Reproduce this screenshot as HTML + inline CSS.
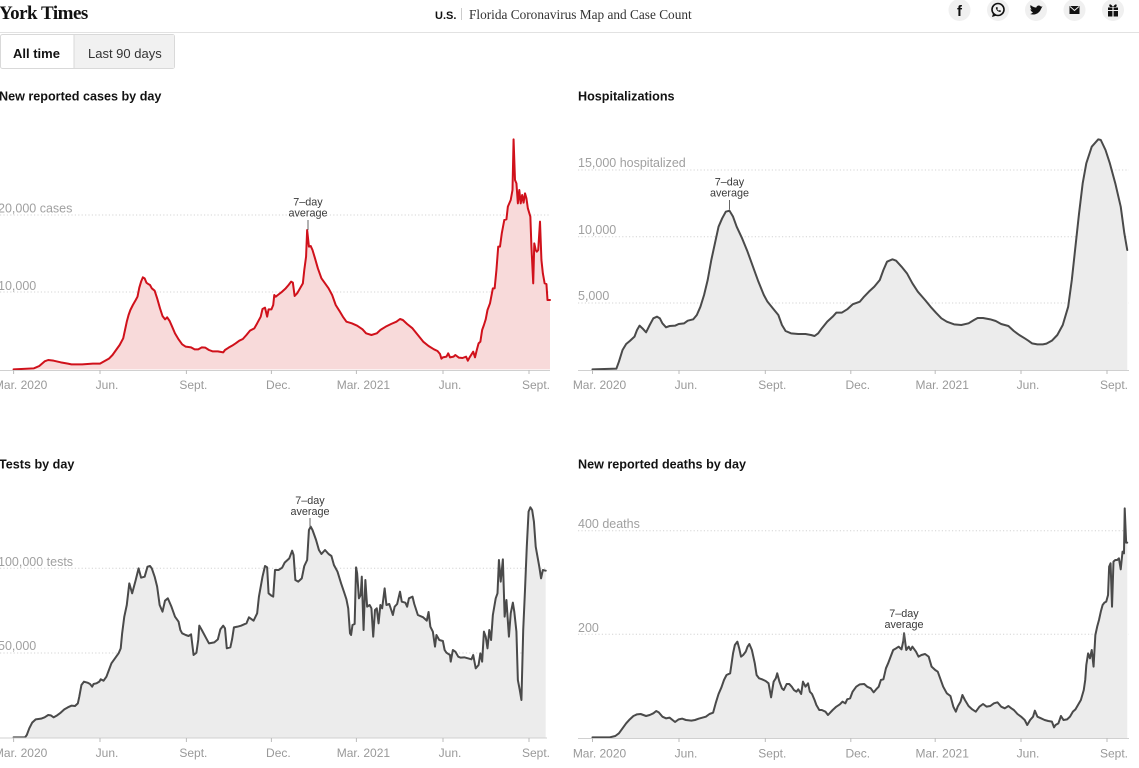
<!DOCTYPE html>
<html>
<head>
<meta charset="utf-8">
<style>
  html,body{margin:0;padding:0;background:#fff;}
  body{width:1139px;height:768px;overflow:hidden;position:relative;}
  svg{position:absolute;left:0;top:0;}
  text{font-family:"Liberation Sans",Arial,sans-serif;}
  .ax{font-size:12px;fill:#999;text-anchor:middle;}
  .gl{font-size:12.5px;fill:#a0a0a0;}
  .ti{font-size:12.6px;font-weight:bold;fill:#121212;}
  .an{font-size:10.8px;fill:#3a3a3a;text-anchor:middle;}
  .grid{stroke:#d4d4d4;stroke-width:1;stroke-dasharray:1.2 2.2;fill:none;}
  .base{stroke:#d0d0d0;stroke-width:1;}
  .tick{stroke:#bbb;stroke-width:1;}
  .gline{fill:none;stroke:#4a4a4a;stroke-width:2;stroke-linejoin:round;stroke-linecap:round;}
  .gfill{fill:#ececec;stroke:none;}
  .rline{fill:none;stroke:#d0111b;stroke-width:2;stroke-linejoin:round;stroke-linecap:round;}
  .rfill{fill:#f8dada;stroke:none;}
</style>
</head>
<body>
<svg width="1139" height="768" viewBox="0 0 1139 768" xmlns="http://www.w3.org/2000/svg">
  <!-- HEADER -->
  <text x="-1" y="19" style="font-family:'Liberation Serif',serif;font-weight:bold;font-size:19px;letter-spacing:-0.5px" fill="#111">York Times</text>
  <text x="435" y="19" style="font-size:11px;font-weight:bold" fill="#111">U.S.</text>
  <line x1="461.5" y1="8" x2="461.5" y2="20" stroke="#ccc" stroke-width="1"/>
  <text x="469" y="19" style="font-family:'Liberation Serif',serif;font-size:13.3px" fill="#333">Florida Coronavirus Map and Case Count</text>
  <line x1="0" y1="32.5" x2="1139" y2="32.5" stroke="#e2e2e2" stroke-width="1"/>

  <!-- share icons -->
  <g fill="#f0f0f0">
    <circle cx="959.5" cy="10" r="11"/>
    <circle cx="998" cy="10" r="11"/>
    <circle cx="1036" cy="10" r="11"/>
    <circle cx="1074.5" cy="10" r="11"/>
    <circle cx="1113" cy="10" r="11"/>
  </g>
  <text x="959.5" y="16" text-anchor="middle" style="font-size:15px;font-weight:bold" fill="#111">f</text>
  <circle cx="998" cy="9.5" r="6" fill="none" stroke="#111" stroke-width="1.6"/>
  <path d="M993.2 13 L992 17 L996 15.8 Z" fill="#111"/>
  <path d="M995.8 7.5 C996 10 998 12 1000.5 12 L1001 10.8 L999.6 10 L999 10.8 C998.2 10.4 997.5 9.6 997.2 8.9 L998 8.3 L997.2 7 Z" fill="#111"/>
  <path d="M1030 14 C1034 15.5 1039 14 1041 9 L1042.5 6.3 L1041 6.8 C1040 5 1037 5 1036.2 7.6 C1033.5 7.4 1031.8 6.2 1030.6 5 C1030 6.8 1030.5 8.5 1031.8 9.3 C1031.2 9.6 1030.6 9.4 1030.3 9.3 C1030.6 10.8 1031.8 12 1033 12.2 C1032.2 13.2 1031 13.8 1030 14 Z" fill="#111"/>
  <rect x="1069.5" y="6" width="10" height="8" fill="#111"/>
  <path d="M1070 6.5 L1074.5 10.5 L1079 6.5" fill="none" stroke="#f0f0f0" stroke-width="1"/>
  <rect x="1108" y="7.5" width="10" height="9" fill="#111"/>
  <line x1="1113" y1="7.5" x2="1113" y2="16.5" stroke="#f0f0f0" stroke-width="1.2"/>
  <line x1="1108" y1="10.5" x2="1118" y2="10.5" stroke="#f0f0f0" stroke-width="1"/>
  <path d="M1113 7 C1110.5 2.5 1108 4.5 1110 7 Z M1113 7 C1115.5 2.5 1118 4.5 1116 7 Z" fill="#111"/>

  <!-- TABS -->
  <rect x="0.5" y="34.5" width="174" height="34" rx="2" fill="#fff" stroke="#d9d9d9"/>
  <rect x="74" y="35" width="100" height="33" fill="#f1f1f1"/>
  <line x1="74" y1="35" x2="74" y2="68" stroke="#d9d9d9"/>
  <text x="13" y="58" style="font-size:13px;font-weight:bold" fill="#121212">All time</text>
  <text x="88" y="58" style="font-size:13px" fill="#333">Last 90 days</text>

  <!-- ========== CHART 1: CASES ========== -->
  <text class="ti" x="-1" y="100.5">New reported cases by day</text>
  <line class="grid" x1="0" y1="215" x2="550" y2="215"/>
  <line class="grid" x1="0" y1="292" x2="550" y2="292"/>
  <g transform="translate(0,120) scale(0.357143,0.333333)">
    <polygon class="rfill" points="38,748 95,745 110,738 125,724 135,720 150,722 170,727 190,731 200,733 230,733 260,731 280,731 295,722 305,716 315,705 325,690 335,675 345,655 350,630 355,605 360,585 365,570 372,555 380,540 385,530 390,503 395,485 400,472 405,475 410,488 415,492 420,495 425,505 433,512 440,535 448,565 455,588 462,598 468,592 475,603 482,620 490,640 500,658 510,673 520,680 535,682 545,688 555,688 565,682 575,683 585,690 595,694 610,694 625,697 630,690 640,683 650,677 660,670 670,662 680,657 690,645 700,632 712,625 720,610 730,590 735,567 742,563 748,590 752,568 760,568 765,555 768,525 772,530 778,525 790,515 800,505 808,495 815,485 820,488 825,528 832,520 840,505 848,490 852,450 857,410 860,330 865,380 870,378 875,390 882,415 890,445 900,475 910,490 920,505 930,525 940,555 950,572 960,590 970,605 985,610 1000,617 1015,628 1025,640 1040,645 1055,640 1065,630 1080,620 1095,612 1110,605 1120,597 1128,600 1140,612 1155,625 1170,645 1185,665 1200,678 1215,688 1225,693 1232,702 1236,716 1240,712 1250,710 1255,700 1260,712 1270,710 1275,705 1285,713 1295,714 1305,710 1310,722 1315,712 1325,695 1330,712 1335,690 1340,670 1345,665 1350,630 1355,615 1360,598 1365,570 1372,550 1380,505 1385,505 1390,450 1395,380 1400,380 1405,340 1412,300 1418,298 1422,260 1430,240 1435,210 1438,58 1442,180 1446,190 1450,250 1454,210 1458,250 1462,225 1466,248 1470,220 1474,235 1478,265 1485,290 1488,380 1493,490 1496,370 1500,390 1503,395 1507,390 1512,305 1516,420 1520,460 1525,490 1530,492 1533,540 1540,540 1540,748"/>
    <polyline class="rline" vector-effect="non-scaling-stroke" points="38,748 95,745 110,738 125,724 135,720 150,722 170,727 190,731 200,733 230,733 260,731 280,731 295,722 305,716 315,705 325,690 335,675 345,655 350,630 355,605 360,585 365,570 372,555 380,540 385,530 390,503 395,485 400,472 405,475 410,488 415,492 420,495 425,505 433,512 440,535 448,565 455,588 462,598 468,592 475,603 482,620 490,640 500,658 510,673 520,680 535,682 545,688 555,688 565,682 575,683 585,690 595,694 610,694 625,697 630,690 640,683 650,677 660,670 670,662 680,657 690,645 700,632 712,625 720,610 730,590 735,567 742,563 748,590 752,568 760,568 765,555 768,525 772,530 778,525 790,515 800,505 808,495 815,485 820,488 825,528 832,520 840,505 848,490 852,450 857,410 860,330 865,380 870,378 875,390 882,415 890,445 900,475 910,490 920,505 930,525 940,555 950,572 960,590 970,605 985,610 1000,617 1015,628 1025,640 1040,645 1055,640 1065,630 1080,620 1095,612 1110,605 1120,597 1128,600 1140,612 1155,625 1170,645 1185,665 1200,678 1215,688 1225,693 1232,702 1236,716 1240,712 1250,710 1255,700 1260,712 1270,710 1275,705 1285,713 1295,714 1305,710 1310,722 1315,712 1325,695 1330,712 1335,690 1340,670 1345,665 1350,630 1355,615 1360,598 1365,570 1372,550 1380,505 1385,505 1390,450 1395,380 1400,380 1405,340 1412,300 1418,298 1422,260 1430,240 1435,210 1438,58 1442,180 1446,190 1450,250 1454,210 1458,250 1462,225 1466,248 1470,220 1474,235 1478,265 1485,290 1488,380 1493,490 1496,370 1500,390 1503,395 1507,390 1512,305 1516,420 1520,460 1525,490 1530,492 1533,540 1540,540"/>
  </g>
  <line class="base" x1="0" y1="370.5" x2="550" y2="370.5"/>
  <g class="tick">
    <line x1="13.6" y1="370" x2="13.6" y2="374"/><line x1="100" y1="370" x2="100" y2="374"/><line x1="186.4" y1="370" x2="186.4" y2="374"/><line x1="271.4" y1="370" x2="271.4" y2="374"/><line x1="356.4" y1="370" x2="356.4" y2="374"/><line x1="443" y1="370" x2="443" y2="374"/><line x1="529" y1="370" x2="529" y2="374"/>
  </g>
  <text class="gl" x="-2" y="212.5">20,000 cases</text>
  <text class="gl" x="-2" y="290">10,000</text>
  <text class="ax" x="20.6" y="389">Mar. 2020</text>
  <text class="ax" x="107" y="389">Jun.</text>
  <text class="ax" x="193.4" y="389">Sept.</text>
  <text class="ax" x="278.4" y="389">Dec.</text>
  <text class="ax" x="363.4" y="389">Mar. 2021</text>
  <text class="ax" x="450" y="389">Jun.</text>
  <text class="ax" x="536" y="389">Sept.</text>
  <text class="an" x="308" y="205.5">7–day</text>
  <text class="an" x="308" y="216.5">average</text>
  <line x1="308" y1="220" x2="308" y2="230" stroke="#666" stroke-width="1"/>

  <!-- ========== CHART 2: HOSPITALIZATIONS ========== -->
  <text class="ti" x="578" y="100.5">Hospitalizations</text>
  <line class="grid" x1="578" y1="170" x2="1129" y2="170"/>
  <line class="grid" x1="578" y1="236.7" x2="1129" y2="236.7"/>
  <line class="grid" x1="578" y1="303" x2="1129" y2="303"/>
  <g transform="translate(570,120) scale(0.362319,0.333333)">
    <polygon class="gfill" points="62,748 128,746 135,725 145,690 155,672 165,663 178,650 185,630 192,617 200,625 210,637 220,615 230,595 240,590 248,595 255,610 265,622 275,618 290,617 300,612 315,610 325,602 340,598 350,585 360,560 370,525 380,480 390,420 400,370 410,320 420,295 430,275 440,272 450,290 460,320 475,355 490,395 505,440 520,485 535,525 545,545 560,565 575,585 585,615 595,633 610,640 630,642 650,642 665,645 675,648 685,640 695,625 710,605 725,590 735,578 750,578 765,568 780,553 800,545 810,532 825,515 840,500 855,480 865,450 875,425 890,418 900,422 915,440 930,460 945,490 960,515 980,540 995,560 1010,578 1025,595 1040,605 1060,613 1080,615 1100,610 1115,600 1125,594 1140,594 1160,598 1175,603 1190,612 1210,618 1225,633 1240,645 1255,655 1265,662 1275,670 1290,673 1305,673 1315,671 1330,662 1345,645 1360,615 1375,560 1385,480 1395,380 1405,280 1415,190 1425,130 1440,80 1458,58 1465,60 1478,90 1490,130 1505,190 1520,260 1530,340 1538,390 1538,750 62,750"/>
    <polyline class="gline" vector-effect="non-scaling-stroke" points="62,748 128,746 135,725 145,690 155,672 165,663 178,650 185,630 192,617 200,625 210,637 220,615 230,595 240,590 248,595 255,610 265,622 275,618 290,617 300,612 315,610 325,602 340,598 350,585 360,560 370,525 380,480 390,420 400,370 410,320 420,295 430,275 440,272 450,290 460,320 475,355 490,395 505,440 520,485 535,525 545,545 560,565 575,585 585,615 595,633 610,640 630,642 650,642 665,645 675,648 685,640 695,625 710,605 725,590 735,578 750,578 765,568 780,553 800,545 810,532 825,515 840,500 855,480 865,450 875,425 890,418 900,422 915,440 930,460 945,490 960,515 980,540 995,560 1010,578 1025,595 1040,605 1060,613 1080,615 1100,610 1115,600 1125,594 1140,594 1160,598 1175,603 1190,612 1210,618 1225,633 1240,645 1255,655 1265,662 1275,670 1290,673 1305,673 1315,671 1330,662 1345,645 1360,615 1375,560 1385,480 1395,380 1405,280 1415,190 1425,130 1440,80 1458,58 1465,60 1478,90 1490,130 1505,190 1520,260 1530,340 1538,390"/>
  </g>
  <line class="base" x1="578" y1="370.5" x2="1129" y2="370.5"/>
  <g class="tick">
    <line x1="592.5" y1="370" x2="592.5" y2="374"/><line x1="679" y1="370" x2="679" y2="374"/><line x1="765.3" y1="370" x2="765.3" y2="374"/><line x1="850.8" y1="370" x2="850.8" y2="374"/><line x1="935.2" y1="370" x2="935.2" y2="374"/><line x1="1021" y1="370" x2="1021" y2="374"/><line x1="1107" y1="370" x2="1107" y2="374"/>
  </g>
  <text class="gl" x="578" y="167">15,000 hospitalized</text>
  <text class="gl" x="578" y="233.8">10,000</text>
  <text class="gl" x="578" y="300">5,000</text>
  <text class="ax" x="599.5" y="389">Mar. 2020</text>
  <text class="ax" x="686" y="389">Jun.</text>
  <text class="ax" x="772.3" y="389">Sept.</text>
  <text class="ax" x="857.8" y="389">Dec.</text>
  <text class="ax" x="942.2" y="389">Mar. 2021</text>
  <text class="ax" x="1028" y="389">Jun.</text>
  <text class="ax" x="1114" y="389">Sept.</text>
  <text class="an" x="729.5" y="185.5">7–day</text>
  <text class="an" x="729.5" y="196.5">average</text>
  <line x1="729.5" y1="200" x2="729.5" y2="209.5" stroke="#666" stroke-width="1"/>

  <!-- ========== CHART 3: TESTS ========== -->
  <text class="ti" x="-1" y="468.5">Tests by day</text>
  <line class="grid" x1="0" y1="568.3" x2="547" y2="568.3"/>
  <line class="grid" x1="0" y1="653" x2="547" y2="653"/>
  <g transform="translate(0,480) scale(0.357143,0.333333)">
    <polygon class="gfill" points="38,772 70,772 75,765 82,745 90,728 100,718 115,716 125,712 135,705 142,706 150,712 160,706 170,698 180,688 190,682 200,677 210,678 218,670 222,650 228,615 235,605 245,608 252,612 258,620 262,612 270,610 278,605 282,598 290,602 298,590 305,570 312,550 322,535 332,520 338,505 342,460 348,410 355,375 362,310 370,340 380,300 388,265 395,293 405,290 413,260 420,258 425,265 433,290 440,320 447,375 455,395 462,362 470,355 480,380 490,410 500,425 505,450 510,460 520,465 528,468 535,463 542,525 550,518 555,480 558,437 565,450 575,470 585,490 600,487 610,478 617,448 625,437 630,445 635,505 645,502 650,477 655,442 665,440 675,437 690,430 697,412 710,422 720,400 725,350 735,290 742,258 748,262 752,340 760,347 765,350 770,270 780,270 790,263 797,248 810,235 818,212 822,225 827,300 835,305 845,295 852,258 860,240 865,150 870,140 875,150 885,180 893,210 900,222 910,210 920,222 928,228 935,255 945,275 955,310 963,335 970,358 975,385 980,460 983,465 987,435 993,432 997,262 1000,280 1005,355 1010,345 1013,290 1018,450 1023,300 1028,380 1035,375 1040,385 1045,470 1050,390 1055,385 1060,430 1065,375 1070,385 1077,325 1082,375 1090,372 1100,405 1105,380 1112,372 1120,335 1125,365 1135,368 1140,380 1145,355 1155,350 1160,372 1170,405 1185,412 1195,422 1200,396 1205,440 1212,455 1218,500 1222,465 1230,480 1240,483 1245,510 1250,518 1260,525 1262,545 1268,510 1275,515 1283,530 1290,533 1300,532 1310,535 1320,538 1325,525 1332,565 1340,555 1345,520 1350,545 1355,455 1360,470 1365,505 1370,450 1375,480 1380,405 1388,355 1393,340 1397,240 1402,305 1408,238 1413,410 1418,360 1425,470 1430,400 1436,368 1440,395 1446,455 1450,600 1455,628 1460,660 1465,450 1470,330 1475,200 1480,95 1485,82 1490,90 1495,125 1500,200 1505,230 1510,260 1515,295 1520,270 1528,272 1528,773 38,773"/>
    <polyline class="gline" vector-effect="non-scaling-stroke" points="38,772 70,772 75,765 82,745 90,728 100,718 115,716 125,712 135,705 142,706 150,712 160,706 170,698 180,688 190,682 200,677 210,678 218,670 222,650 228,615 235,605 245,608 252,612 258,620 262,612 270,610 278,605 282,598 290,602 298,590 305,570 312,550 322,535 332,520 338,505 342,460 348,410 355,375 362,310 370,340 380,300 388,265 395,293 405,290 413,260 420,258 425,265 433,290 440,320 447,375 455,395 462,362 470,355 480,380 490,410 500,425 505,450 510,460 520,465 528,468 535,463 542,525 550,518 555,480 558,437 565,450 575,470 585,490 600,487 610,478 617,448 625,437 630,445 635,505 645,502 650,477 655,442 665,440 675,437 690,430 697,412 710,422 720,400 725,350 735,290 742,258 748,262 752,340 760,347 765,350 770,270 780,270 790,263 797,248 810,235 818,212 822,225 827,300 835,305 845,295 852,258 860,240 865,150 870,140 875,150 885,180 893,210 900,222 910,210 920,222 928,228 935,255 945,275 955,310 963,335 970,358 975,385 980,460 983,465 987,435 993,432 997,262 1000,280 1005,355 1010,345 1013,290 1018,450 1023,300 1028,380 1035,375 1040,385 1045,470 1050,390 1055,385 1060,430 1065,375 1070,385 1077,325 1082,375 1090,372 1100,405 1105,380 1112,372 1120,335 1125,365 1135,368 1140,380 1145,355 1155,350 1160,372 1170,405 1185,412 1195,422 1200,396 1205,440 1212,455 1218,500 1222,465 1230,480 1240,483 1245,510 1250,518 1260,525 1262,545 1268,510 1275,515 1283,530 1290,533 1300,532 1310,535 1320,538 1325,525 1332,565 1340,555 1345,520 1350,545 1355,455 1360,470 1365,505 1370,450 1375,480 1380,405 1388,355 1393,340 1397,240 1402,305 1408,238 1413,410 1418,360 1425,470 1430,400 1436,368 1440,395 1446,455 1450,600 1455,628 1460,660 1465,450 1470,330 1475,200 1480,95 1485,82 1490,90 1495,125 1500,200 1505,230 1510,260 1515,295 1520,270 1528,272"/>
  </g>
  <line class="base" x1="0" y1="738" x2="547" y2="738"/>
  <g class="tick">
    <line x1="13.6" y1="738" x2="13.6" y2="742"/><line x1="100" y1="738" x2="100" y2="742"/><line x1="186.4" y1="738" x2="186.4" y2="742"/><line x1="271.4" y1="738" x2="271.4" y2="742"/><line x1="356.4" y1="738" x2="356.4" y2="742"/><line x1="443" y1="738" x2="443" y2="742"/><line x1="529" y1="738" x2="529" y2="742"/>
  </g>
  <text class="gl" x="-2" y="566">100,000 tests</text>
  <text class="gl" x="-2" y="650">50,000</text>
  <text class="ax" x="20.6" y="757">Mar. 2020</text>
  <text class="ax" x="107" y="757">Jun.</text>
  <text class="ax" x="193.4" y="757">Sept.</text>
  <text class="ax" x="278.4" y="757">Dec.</text>
  <text class="ax" x="363.4" y="757">Mar. 2021</text>
  <text class="ax" x="450" y="757">Jun.</text>
  <text class="ax" x="536" y="757">Sept.</text>
  <text class="an" x="310" y="504">7–day</text>
  <text class="an" x="310" y="515">average</text>
  <line x1="310" y1="518" x2="310" y2="527" stroke="#666" stroke-width="1"/>

  <!-- ========== CHART 4: DEATHS ========== -->
  <text class="ti" x="578" y="468.5">New reported deaths by day</text>
  <line class="grid" x1="578" y1="530.7" x2="1129" y2="530.7"/>
  <line class="grid" x1="578" y1="634.3" x2="1129" y2="634.3"/>
  <g transform="translate(570,490) scale(0.362319,0.333333)">
    <polygon class="gfill" points="62,742 110,742 125,738 135,730 145,715 155,700 165,688 175,678 185,673 195,672 210,678 220,675 230,670 238,663 245,667 255,680 265,685 275,683 283,690 290,696 300,688 310,686 320,690 335,692 345,690 355,686 365,683 375,680 385,672 395,668 402,640 410,612 418,592 425,570 432,555 442,550 450,490 455,465 462,455 467,475 472,500 478,495 485,485 490,470 495,462 502,480 510,520 515,555 522,565 530,568 540,573 548,580 555,622 562,575 568,565 572,550 578,575 585,595 590,600 598,582 605,582 612,590 618,600 625,605 630,598 638,612 643,575 650,590 657,580 662,605 668,612 675,630 680,645 688,660 695,660 705,665 712,675 718,668 725,660 735,650 745,643 752,635 760,640 765,628 773,625 780,605 790,590 800,583 812,582 820,590 830,595 838,607 845,598 852,590 858,570 865,568 872,535 878,520 885,500 892,480 900,475 907,470 915,478 920,452 922,430 928,480 935,470 940,480 945,470 955,485 962,500 970,495 980,492 990,500 998,530 1008,540 1015,545 1020,560 1030,590 1040,610 1050,618 1058,650 1065,665 1070,650 1078,635 1083,615 1090,630 1100,648 1110,658 1120,665 1130,650 1140,642 1150,650 1160,648 1170,640 1180,637 1190,650 1200,655 1210,648 1218,655 1225,660 1235,672 1245,680 1255,690 1262,705 1270,690 1278,680 1283,662 1290,680 1300,685 1310,690 1320,693 1330,695 1336,712 1340,705 1348,700 1355,678 1362,690 1372,688 1380,680 1388,665 1395,658 1402,645 1410,630 1418,600 1422,570 1425,525 1430,490 1435,505 1440,480 1445,530 1450,435 1455,410 1460,390 1465,365 1470,345 1475,338 1480,335 1485,315 1488,230 1492,220 1496,350 1500,215 1505,210 1510,210 1515,205 1520,238 1525,185 1529,190 1531,55 1535,158 1538,158 1538,745 62,745"/>
    <polyline class="gline" vector-effect="non-scaling-stroke" points="62,742 110,742 125,738 135,730 145,715 155,700 165,688 175,678 185,673 195,672 210,678 220,675 230,670 238,663 245,667 255,680 265,685 275,683 283,690 290,696 300,688 310,686 320,690 335,692 345,690 355,686 365,683 375,680 385,672 395,668 402,640 410,612 418,592 425,570 432,555 442,550 450,490 455,465 462,455 467,475 472,500 478,495 485,485 490,470 495,462 502,480 510,520 515,555 522,565 530,568 540,573 548,580 555,622 562,575 568,565 572,550 578,575 585,595 590,600 598,582 605,582 612,590 618,600 625,605 630,598 638,612 643,575 650,590 657,580 662,605 668,612 675,630 680,645 688,660 695,660 705,665 712,675 718,668 725,660 735,650 745,643 752,635 760,640 765,628 773,625 780,605 790,590 800,583 812,582 820,590 830,595 838,607 845,598 852,590 858,570 865,568 872,535 878,520 885,500 892,480 900,475 907,470 915,478 920,452 922,430 928,480 935,470 940,480 945,470 955,485 962,500 970,495 980,492 990,500 998,530 1008,540 1015,545 1020,560 1030,590 1040,610 1050,618 1058,650 1065,665 1070,650 1078,635 1083,615 1090,630 1100,648 1110,658 1120,665 1130,650 1140,642 1150,650 1160,648 1170,640 1180,637 1190,650 1200,655 1210,648 1218,655 1225,660 1235,672 1245,680 1255,690 1262,705 1270,690 1278,680 1283,662 1290,680 1300,685 1310,690 1320,693 1330,695 1336,712 1340,705 1348,700 1355,678 1362,690 1372,688 1380,680 1388,665 1395,658 1402,645 1410,630 1418,600 1422,570 1425,525 1430,490 1435,505 1440,480 1445,530 1450,435 1455,410 1460,390 1465,365 1470,345 1475,338 1480,335 1485,315 1488,230 1492,220 1496,350 1500,215 1505,210 1510,210 1515,205 1520,238 1525,185 1529,190 1531,55 1535,158 1538,158"/>
  </g>
  <line class="base" x1="578" y1="738.5" x2="1129" y2="738.5"/>
  <g class="tick">
    <line x1="592.5" y1="738" x2="592.5" y2="742"/><line x1="679" y1="738" x2="679" y2="742"/><line x1="765.3" y1="738" x2="765.3" y2="742"/><line x1="850.8" y1="738" x2="850.8" y2="742"/><line x1="935.2" y1="738" x2="935.2" y2="742"/><line x1="1021" y1="738" x2="1021" y2="742"/><line x1="1107" y1="738" x2="1107" y2="742"/>
  </g>
  <text class="gl" x="578" y="528">400 deaths</text>
  <text class="gl" x="578" y="632">200</text>
  <text class="ax" x="599.5" y="757.5">Mar. 2020</text>
  <text class="ax" x="686" y="757.5">Jun.</text>
  <text class="ax" x="772.3" y="757.5">Sept.</text>
  <text class="ax" x="857.8" y="757.5">Dec.</text>
  <text class="ax" x="942.2" y="757.5">Mar. 2021</text>
  <text class="ax" x="1028" y="757.5">Jun.</text>
  <text class="ax" x="1114" y="757.5">Sept.</text>
  <text class="an" x="904" y="617">7–day</text>
  <text class="an" x="904" y="628">average</text>
  <line x1="904" y1="632" x2="904" y2="642" stroke="#666" stroke-width="1"/>
</svg>
</body>
</html>
